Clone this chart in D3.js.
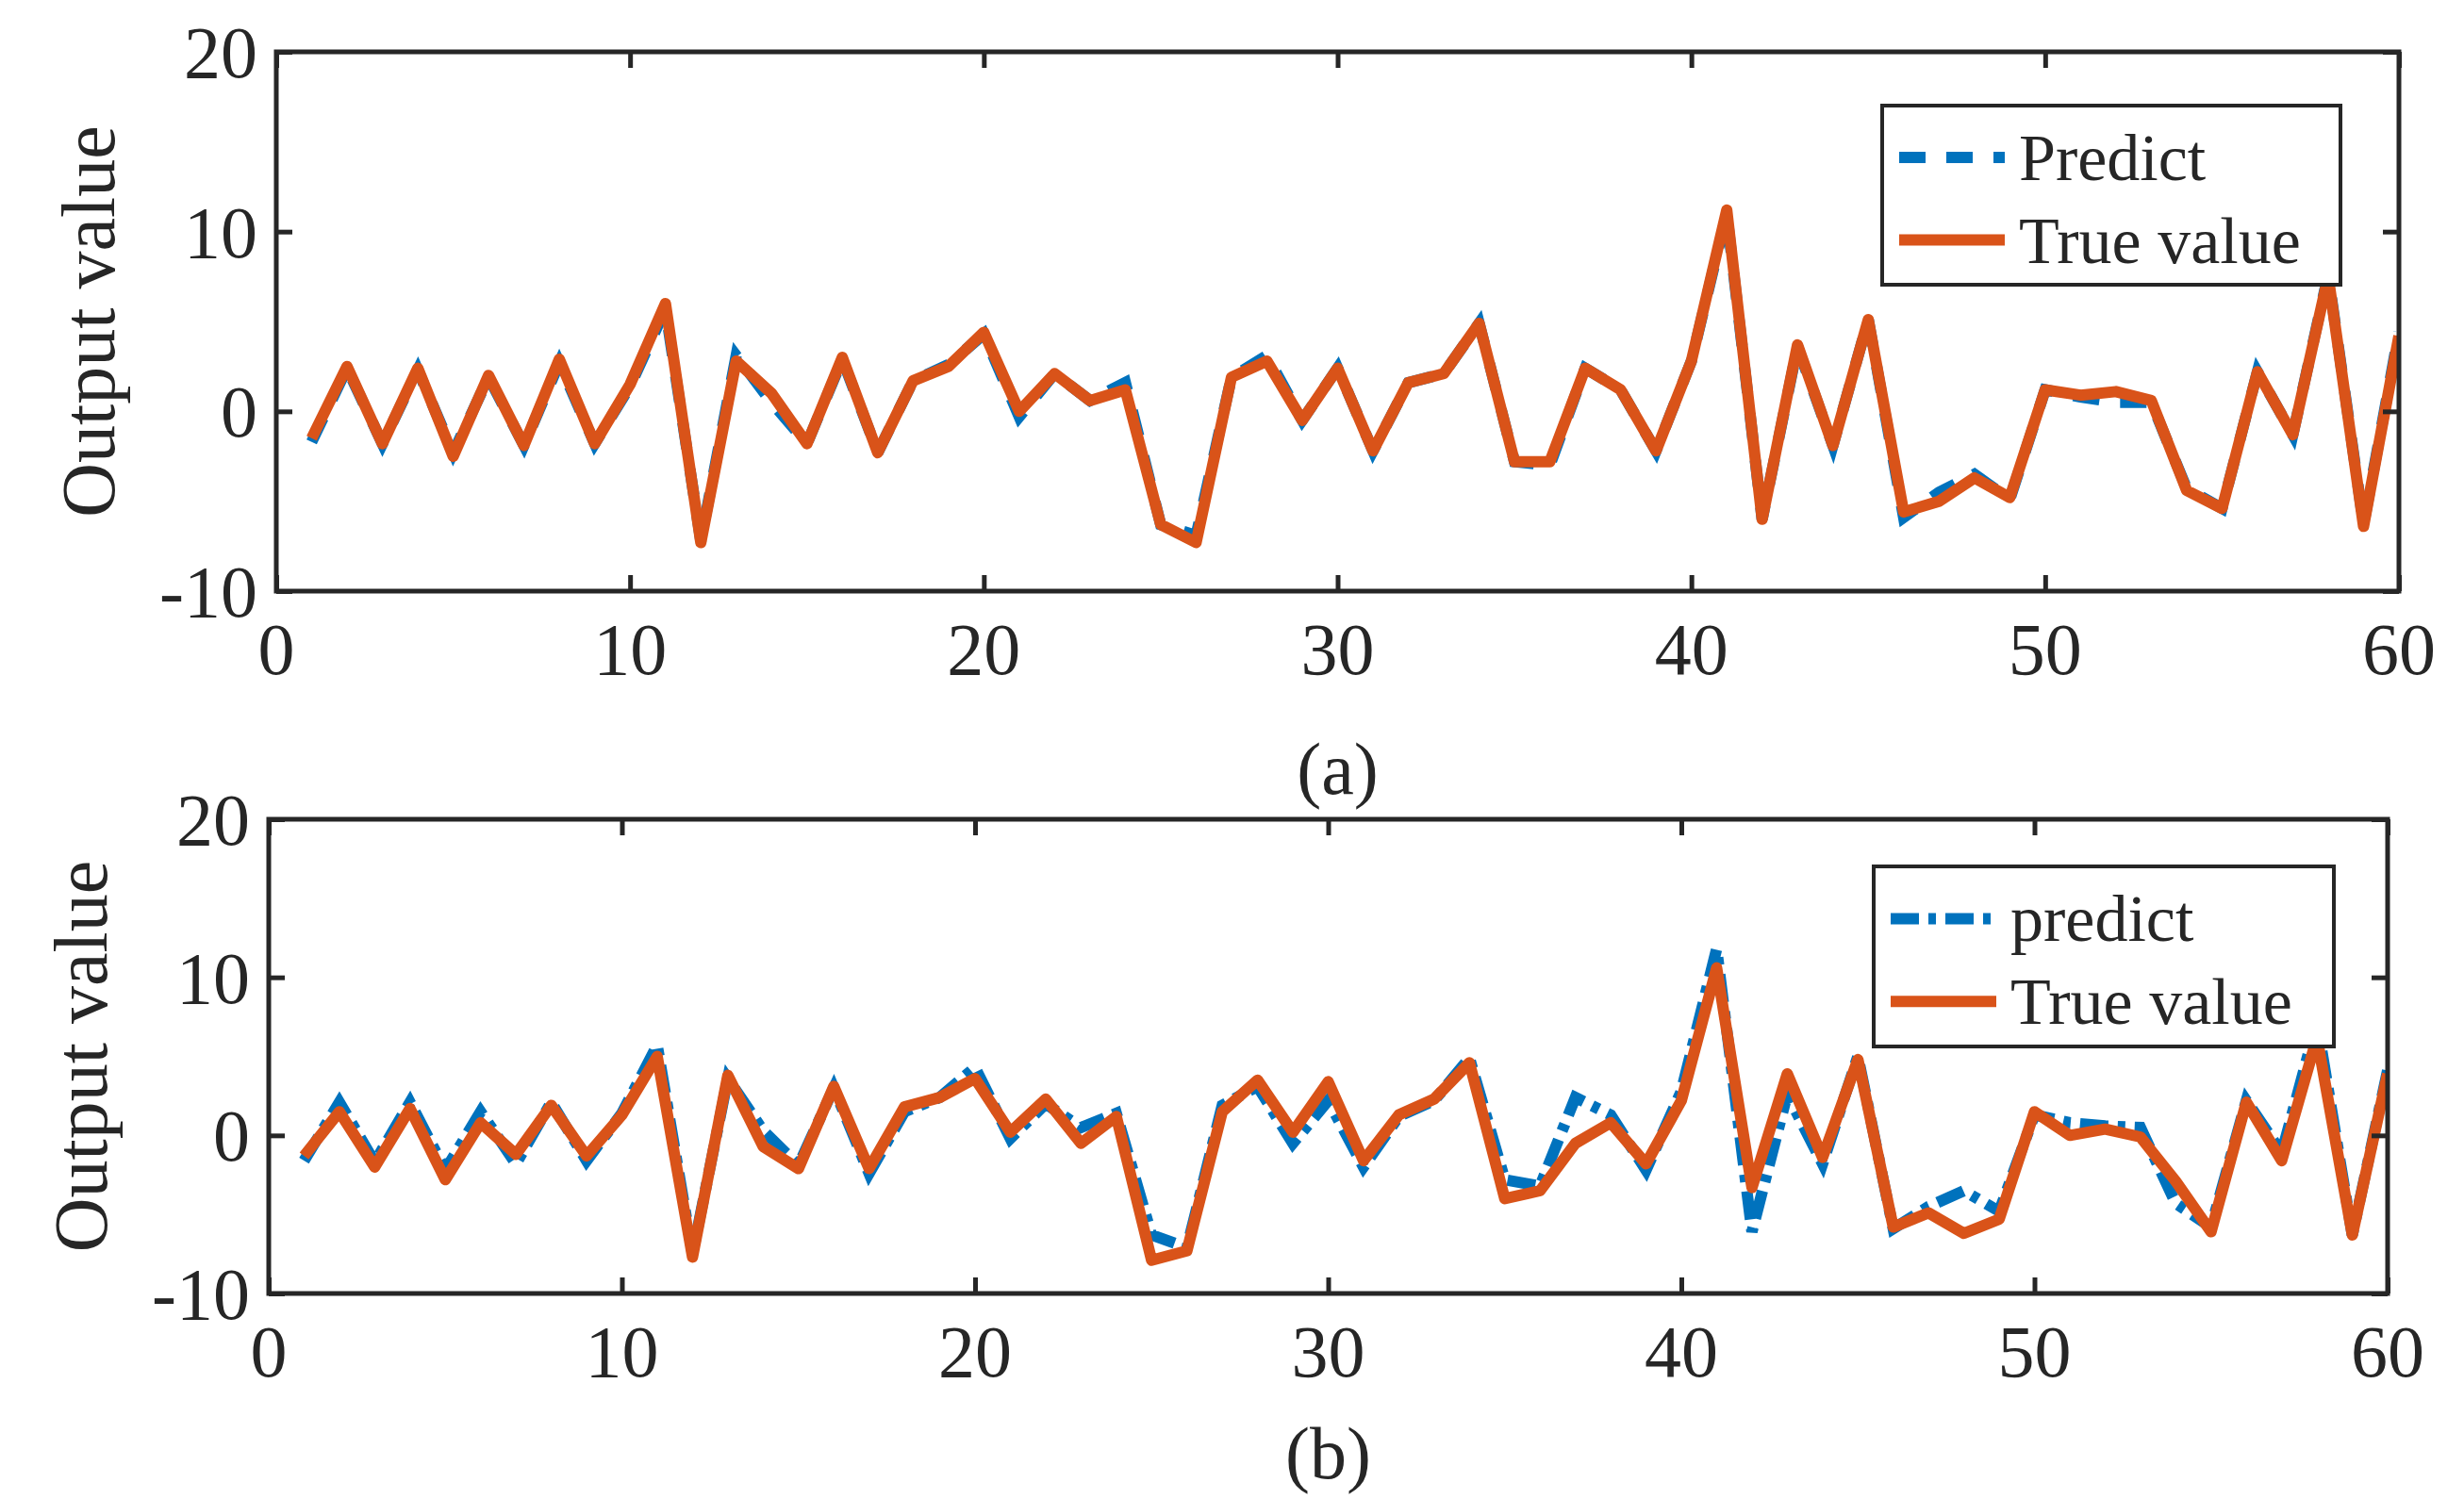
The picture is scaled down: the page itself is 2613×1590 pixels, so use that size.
<!DOCTYPE html>
<html><head><meta charset="utf-8">
<script src="https://cdn.jsdelivr.net/npm/d3@7"></script>
<style>body{margin:0;background:#fff}text{font-family:'Liberation Serif','DejaVu Serif',serif;fill:#262626}</style>
</head><body><svg id="c" width="2613" height="1590"></svg>
<script>
const xTicks=[0,10,20,30,40,50,60];
const yTicks=[-10,0,10,20];
const trueA=[-1.5,2.5,-1.8,2.4,-2.5,2.0,-1.9,2.9,-1.8,1.5,6.0,-7.3,2.8,1.0,-1.8,3.0,-2.3,1.7,2.5,4.4,0,2.1,0.6,1.2,-6.3,-7.3,1.9,2.8,-0.5,2.4,-2.2,1.6,2.1,4.9,-2.8,-2.8,2.4,1.2,-2.2,2.8,11.2,-6.0,3.7,-1.9,5.1,-5.6,-5.0,-3.7,-4.8,1.2,0.9,1.1,0.6,-4.4,-5.4,2.2,-1.3,7.5,-6.4,4.2];
const predA=[-1.7,2.4,-1.8,2.3,-2.3,1.9,-1.9,2.7,-1.8,1.4,5.7,-7.2,3.1,0.5,-1.8,2.9,-2.3,1.7,2.6,4.3,-0.3,2.1,0.6,1.6,-6.3,-6.9,1.9,3.1,-0.5,2.4,-2.2,1.6,2.1,4.9,-2.8,-3.0,2.4,1.2,-2.2,2.8,11.0,-6.0,3.6,-1.9,5.1,-5.9,-4.5,-3.5,-4.9,1.2,0.8,0.5,0.5,-4.3,-5.4,2.2,-1.3,7.6,-6.3,4.4];
const trueB=[-1.3,1.5,-2.0,1.7,-2.8,0.8,-1.2,1.9,-1.3,1.3,5.0,-7.7,3.8,-0.7,-2.1,3.1,-2.1,1.8,2.4,3.6,0.2,2.3,-0.5,1.2,-7.9,-7.3,1.5,3.5,0.2,3.4,-1.6,1.3,2.3,4.6,-4.0,-3.5,-0.5,0.8,-1.8,2.2,10.6,-3.3,3.9,-1.4,4.8,-5.8,-4.9,-6.2,-5.3,1.5,0.0,0.4,-0.1,-2.9,-6.1,2.1,-1.6,6.2,-6.3,3.9];
const predB=[-1.6,2.1,-1.7,2.1,-2.2,1.5,-1.8,2.1,-1.6,1.4,5.7,-7.5,3.6,0.3,-1.9,3.0,-2.4,1.5,2.4,4.3,-0.2,2.0,0.5,1.4,-6.3,-7.1,1.9,3.1,-0.5,2.2,-2.0,1.2,2.2,4.9,-2.8,-3.2,2.4,1.3,-2.2,2.8,11.8,-6.1,2.6,-1.8,5.0,-5.9,-4.5,-3.5,-4.8,1.3,0.8,0.6,0.5,-4.3,-5.8,2.2,-1.1,7.2,-6.3,4.1];
const idx=d3.range(1,61);
const svg=d3.select("#c");
const FONT="'Liberation Serif','DejaVu Serif',serif";
const BLUE="#0072BD",RED="#D95319",AX="#262626";
function panel(o){
  const g=svg.append("g").attr("font-family",FONT);
  const x=d3.scaleLinear().domain([0,60]).range([o.l,o.r]);
  const y=d3.scaleLinear().domain([-10,20]).range([o.b,o.t]);
  const line=d3.line().x((d,i)=>x(idx[i])).y(d=>y(d));
  const clip="cl"+o.id;
  svg.append("clipPath").attr("id",clip).append("rect").attr("x",o.l).attr("y",o.t).attr("width",o.r-o.l).attr("height",o.b-o.t);
  g.append("path").datum(o.pred).attr("d",line).attr("fill","none").attr("stroke",BLUE).attr("stroke-width",12).attr("stroke-dasharray",o.dash).attr("clip-path",`url(#${clip})`);
  g.append("path").datum(o.tru).attr("d",line).attr("fill","none").attr("stroke",RED).attr("stroke-width",12).attr("stroke-linejoin","round").attr("clip-path",`url(#${clip})`);
  const tl=17;
  const ax=(gen,tr)=>g.append("g").attr("transform",tr).call(gen).call(s=>{s.select(".domain").remove();s.selectAll("line").attr("stroke",AX).attr("stroke-width",5);});
  ax(d3.axisBottom(x).tickValues(xTicks).tickSize(-tl).tickFormat(""),`translate(0,${o.b})`);
  ax(d3.axisTop(x).tickValues(xTicks).tickSize(-tl).tickFormat(""),`translate(0,${o.t})`);
  ax(d3.axisLeft(y).tickValues(yTicks).tickSize(-tl).tickFormat(""),`translate(${o.l},0)`);
  ax(d3.axisRight(y).tickValues(yTicks).tickSize(-tl).tickFormat(""),`translate(${o.r},0)`);
  g.append("rect").attr("x",o.l).attr("y",o.t).attr("width",o.r-o.l).attr("height",o.b-o.t).attr("fill","none").attr("stroke",AX).attr("stroke-width",5);
  g.selectAll(".xl").data(xTicks).join("text").attr("font-family",FONT).attr("x",d=>x(d)).attr("y",o.b+88).attr("text-anchor","middle").attr("font-size",78).text(d=>d);
  g.selectAll(".yl").data(yTicks).join("text").attr("font-family",FONT).attr("x",o.l-20).attr("y",d=>y(d)+27).attr("text-anchor","end").attr("font-size",78).text(d=>d);
  g.append("text").attr("font-family",FONT).attr("transform",`translate(${o.l-200},${(o.t+o.b)/2}) rotate(-90)`).attr("text-anchor","middle").attr("dy","0.35em").attr("font-size",80).text("Output value");
  g.append("text").attr("font-family",FONT).attr("x",(o.l+o.r)/2).attr("y",o.capY).attr("text-anchor","middle").attr("font-size",78).text(o.cap);
  const L=o.leg;
  g.append("rect").attr("x",L.x).attr("y",L.y).attr("width",L.w).attr("height",L.h).attr("fill","#fff").attr("stroke",AX).attr("stroke-width",4);
  g.append("line").attr("x1",L.x+18).attr("x2",L.x+130).attr("y1",L.y+L.h*0.29).attr("y2",L.y+L.h*0.29).attr("stroke",BLUE).attr("stroke-width",12).attr("stroke-dasharray",o.dash);
  g.append("line").attr("x1",L.x+18).attr("x2",L.x+130).attr("y1",L.y+L.h*0.75).attr("y2",L.y+L.h*0.75).attr("stroke",RED).attr("stroke-width",12);
  g.append("text").attr("font-family",FONT).attr("x",L.x+145).attr("y",L.y+L.h*0.29+24).attr("font-size",70).attr("fill","#000").text(o.pname);
  g.append("text").attr("font-family",FONT).attr("x",L.x+145).attr("y",L.y+L.h*0.75+24).attr("font-size",70).attr("fill","#000").text("True value");
}
panel({id:"a",l:293,r:2544,t:55,b:627,pred:predA,tru:trueA,dash:"28,22",cap:"(a)",capY:842,pname:"Predict",leg:{x:1996,y:112,w:486,h:190}});
panel({id:"b",l:285,r:2532,t:869,b:1372,pred:predB,tru:trueB,dash:"30,10,8,10",cap:"(b)",capY:1568,pname:"predict",leg:{x:1987,y:919,w:488,h:191}});
</script></body></html>
